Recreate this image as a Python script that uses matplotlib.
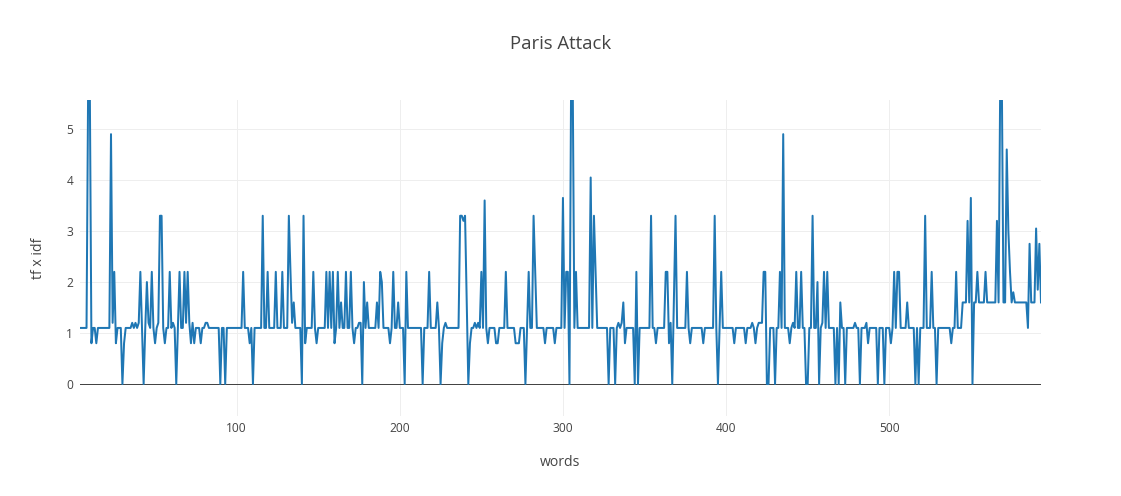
import numpy as np
import matplotlib
matplotlib.use("Agg")
import matplotlib.pyplot as plt

# tf x idf score per word (words 4..593)
first_word = 4
tfidf = [
    1.1, 1.1, 1.1, 1.1, 1.1, 5.9, 5.9, 0.8, 1.1, 1.1,
    0.8, 1.1, 1.1, 1.1, 1.1, 1.1, 1.1, 1.1, 1.1, 4.9,
    1.2, 2.2, 0.8, 1.1, 1.1, 1.1, 0, 0.8, 1.1, 1.1,
    1.1, 1.1, 1.2, 1.1, 1.2, 1.1, 1.2, 2.2, 1.1, 0,
    1.1, 2.0, 1.2, 1.1, 2.2, 1.1, 0.8, 1.1, 1.2, 3.3,
    3.3, 1.1, 0.8, 1.1, 1.1, 2.2, 1.1, 1.2, 1.1, 0,
    1.1, 2.2, 1.1, 1.1, 2.2, 1.2, 2.2, 1.2, 0.8, 1.2,
    0.8, 1.1, 1.1, 1.1, 0.8, 1.1, 1.1, 1.2, 1.2, 1.1,
    1.1, 1.1, 1.1, 1.1, 1.1, 1.1, 0, 1.1, 1.1, 0,
    1.1, 1.1, 1.1, 1.1, 1.1, 1.1, 1.1, 1.1, 1.1, 1.1,
    2.2, 1.1, 1.1, 1.1, 0.8, 1.1, 0, 1.1, 1.1, 1.1,
    1.1, 1.1, 3.3, 1.1, 1.1, 2.2, 1.1, 1.1, 1.1, 1.1,
    2.2, 1.1, 1.1, 1.1, 2.2, 1.1, 1.1, 1.1, 3.3, 2.2,
    1.2, 1.6, 1.1, 1.1, 1.1, 1.1, 0, 3.3, 0.8, 1.1,
    1.1, 1.1, 1.1, 2.2, 1.1, 0.8, 1.1, 1.1, 1.1, 1.1,
    1.1, 2.2, 1.1, 2.2, 1.1, 2.2, 0.8, 1.1, 2.2, 1.1,
    1.6, 1.1, 1.1, 2.2, 1.1, 1.1, 2.2, 1.1, 0.8, 1.1,
    1.1, 1.2, 1.2, 0, 2.0, 1.1, 1.6, 1.1, 1.1, 1.1,
    1.1, 1.1, 1.6, 1.1, 2.2, 2.0, 1.1, 1.1, 1.1, 1.1,
    0.8, 1.1, 2.2, 1.1, 1.1, 1.6, 1.1, 1.1, 1.1, 0,
    2.2, 1.1, 1.1, 1.1, 1.1, 1.1, 1.1, 1.1, 1.1, 1.1,
    0, 1.1, 1.1, 1.1, 2.2, 1.1, 1.1, 1.1, 1.1, 1.6,
    1.1, 0, 0.8, 1.1, 1.2, 1.1, 1.1, 1.1, 1.1, 1.1,
    1.1, 1.1, 1.1, 3.3, 3.3, 3.2, 3.3, 1.6, 0, 0.8,
    1.1, 1.1, 1.2, 1.1, 1.2, 1.1, 2.2, 1.1, 3.6, 1.1,
    0.8, 1.1, 1.1, 1.1, 1.1, 0.8, 0.8, 1.1, 1.1, 1.1,
    1.1, 2.2, 1.1, 1.1, 1.1, 1.1, 1.1, 0.8, 0.8, 0.8,
    1.1, 1.1, 1.1, 0, 1.1, 2.2, 1.1, 1.1, 3.3, 2.2,
    1.1, 1.1, 1.1, 1.1, 1.1, 0.8, 1.1, 1.1, 1.1, 1.1,
    1.1, 0.8, 1.1, 1.1, 1.1, 1.1, 3.65, 1.1, 2.2, 2.2,
    0, 5.9, 5.9, 1.1, 2.2, 1.1, 1.1, 1.1, 1.1, 1.1,
    1.1, 1.1, 1.1, 4.05, 1.1, 3.3, 2.2, 1.1, 1.1, 1.1,
    1.1, 1.1, 1.1, 1.1, 0, 1.1, 1.1, 1.1, 0, 1.1,
    1.2, 1.1, 1.2, 1.6, 0.8, 1.1, 1.1, 1.1, 1.1, 1.1,
    0, 2.2, 0, 1.1, 1.1, 1.1, 1.1, 1.1, 1.1, 1.1,
    3.3, 1.1, 1.1, 0.8, 1.1, 1.1, 1.1, 1.1, 1.1, 2.2,
    2.2, 0.8, 1.2, 0, 1.6, 3.3, 1.1, 1.1, 1.1, 1.1,
    1.1, 1.1, 2.2, 1.1, 0.8, 1.1, 1.1, 1.1, 1.1, 1.1,
    1.1, 1.1, 0.8, 1.1, 1.1, 1.1, 1.1, 1.1, 1.1, 3.3,
    1.1, 0, 1.1, 2.2, 1.1, 1.1, 1.1, 1.1, 1.1, 1.1,
    1.1, 0.8, 1.1, 1.1, 1.1, 1.1, 1.1, 1.1, 0.8, 1.1,
    1.1, 1.1, 1.2, 1.1, 0.8, 1.1, 1.2, 1.2, 1.2, 2.2,
    2.2, 0, 0, 1.1, 1.1, 1.1, 0, 1.1, 1.1, 2.2,
    1.1, 4.9, 1.1, 1.1, 1.1, 0.8, 1.1, 1.2, 1.1, 2.2,
    1.1, 1.1, 2.2, 1.1, 1.1, 0, 0, 1.1, 1.1, 3.3,
    1.1, 1.1, 2.0, 0, 1.1, 1.2, 2.2, 1.1, 2.2, 1.1,
    1.1, 1.1, 1.1, 0, 1.1, 0, 1.6, 1.1, 1.1, 0,
    1.1, 1.1, 1.1, 1.1, 1.1, 1.2, 1.1, 1.1, 0, 1.1,
    1.1, 1.1, 1.2, 0.8, 1.1, 1.1, 1.1, 1.1, 1.1, 0,
    1.1, 1.1, 1.1, 0, 1.1, 1.1, 1.1, 0.8, 1.1, 2.2,
    1.1, 2.2, 2.2, 1.1, 1.1, 1.1, 1.1, 1.6, 1.1, 1.1,
    1.1, 1.1, 0, 1.1, 0, 1.1, 1.1, 1.1, 3.3, 1.1,
    1.1, 1.1, 2.2, 1.1, 1.1, 0, 1.1, 1.1, 1.1, 1.1,
    1.1, 1.1, 1.1, 1.1, 0.8, 1.1, 1.1, 2.2, 1.1, 1.1,
    1.1, 1.6, 1.6, 1.6, 3.2, 1.6, 3.65, 0, 1.6, 1.6,
    2.2, 1.6, 1.6, 1.6, 1.6, 2.2, 1.6, 1.6, 1.6, 1.6,
    1.6, 1.6, 3.2, 1.6, 5.9, 5.9, 1.6, 1.6, 4.6, 3.0,
    2.2, 1.6, 1.8, 1.6, 1.6, 1.6, 1.6, 1.6, 1.6, 1.6,
    1.6, 1.1, 2.75, 1.6, 1.6, 1.6, 3.05, 1.85, 2.75, 1.6,
]
x_ticks = [100, 200, 300, 400, 500]
y_ticks = [0, 1, 2, 3, 4, 5]

words = np.arange(first_word, first_word + len(tfidf))

W, H = 1121, 496
PX = 72 / 100  # one pixel in points at dpi 100
fig = plt.figure(figsize=(W / 100, H / 100), dpi=100)
# plotly default margins: l=80 r=80 t=100 b=80
ax = fig.add_axes([80 / W, 80 / H, (W - 160) / W, (H - 180) / H])

ax.plot(words, tfidf, color="#1f77b4", linewidth=2 * PX, solid_joinstyle="round")
ax.axhline(0, color="#444444", linewidth=1 * PX, zorder=1)

ax.set_xlim(words[0], words[-1])
ax.set_ylim(-0.627, 5.57)
ax.set_xticks(x_ticks)
ax.set_yticks(y_ticks)
ax.grid(True, color="#eeeeee", linewidth=1 * PX)
ax.set_axisbelow(True)
for s in ax.spines.values():
    s.set_visible(False)
ax.tick_params(length=0, labelsize=12 * PX, labelcolor="#444444")
ax.tick_params(axis="x", pad=4)
ax.tick_params(axis="y", pad=5)
for lbl in ax.get_xticklabels() + ax.get_yticklabels():
    lbl.set_family("Open Sans")

fig.text(0.5, 1 - 44 / H, "Paris Attack", ha="center", va="center",
         fontsize=18.5 * PX, color="#444444", family="Open Sans")
fig.text(560 / W, 1 - 463 / H, "words", ha="center", va="center",
         fontsize=14 * PX, color="#444444", family="Open Sans")
fig.text(38 / W, 1 - 258 / H, "tf x idf", ha="center", va="center",
         rotation=90, fontsize=14 * PX, color="#444444", family="Open Sans")

fig.savefig("out.png", dpi=100)
